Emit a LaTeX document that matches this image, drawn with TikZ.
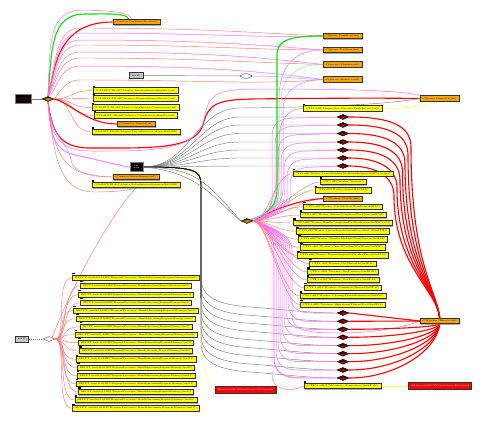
\documentclass[tikz,border=0pt]{standalone}
\usepackage{graphicx}
\usetikzlibrary{shapes.geometric,shadows}
\pgfdeclarelayer{bgw}
\pgfdeclarelayer{edges}
\pgfsetlayers{bgw,edges,main}
\definecolor{nodeyel}{RGB}{255,255,0}
\definecolor{nodeorg}{RGB}{255,165,0}
\definecolor{edred}{RGB}{255,120,120}
\definecolor{edpink}{RGB}{255,110,255}
\definecolor{edgreen}{RGB}{0,230,0}
\definecolor{edlgreen}{RGB}{150,240,150}
\definecolor{edlav}{RGB}{185,150,255}
\definecolor{edgray}{RGB}{125,125,125}
\definecolor{edyel}{RGB}{255,255,90}
\definecolor{bord}{RGB}{50,50,50}
\newcommand{\ft}[2]{\resizebox{\dimexpr#1pt-5pt\relax}{1.7pt}{#2}}
\begin{document}
\begin{tikzpicture}[x=1pt,y=-1pt,
 box/.style={draw=bord,line width=0.6pt,inner sep=0pt,minimum height=5.5pt,
   drop shadow={shadow xshift=0.8pt,shadow yshift=-0.8pt,fill=black!45,opacity=0.7}},
 tabmk/.style={fill=black,inner sep=0pt,minimum width=2.2pt,minimum height=1.3pt,anchor=south west},
 ybox/.style={box,fill=nodeyel,label={[tabmk]north west:{}}},
 obox/.style={box,fill=nodeorg},
 rbox/.style={box,fill=red,minimum height=7pt,text=white},
 gbox/.style={box,fill=black!22},
 kbox/.style={draw=black!50,fill=black,inner sep=0pt,line width=0.5pt},
 dia/.style={shape=diamond,inner sep=0pt,minimum width=12pt,minimum height=5pt,draw=black,line width=0.4pt},
 kdia/.style={dia,inner color=red!85!black,outer color=black},
 odia/.style={dia,inner color=nodeorg,outer color=black!85},
 wdia/.style={dia,fill=white,draw=black!60,line width=0.5pt},
 redt/.style={draw=edred,line width=0.45pt},
 pinkt/.style={draw=edpink,line width=0.5pt},
 redT/.style={draw=red,line width=1.1pt},
 greenT/.style={draw=edgreen,line width=1.1pt},
 lgreen/.style={draw=edlgreen,line width=0.5pt},
 lav/.style={draw=edlav,line width=0.5pt},
 grayt/.style={draw=edgray,line width=0.45pt},
 yel/.style={draw=edyel,line width=0.5pt}]
\begin{pgfonlayer}{bgw}
\fill[white] (0,0) rectangle (488,434);
\end{pgfonlayer}
\useasboundingbox (0,0) rectangle (488,434);

% ---------- left top cluster
\node[kbox,minimum width=15pt,minimum height=9pt,align=center,text=red,font=\fontsize{1.8}{2.2}\selectfont] (b1) at (23,99) {0\\UCLADPT-TB\\entry};
\node[odia] (d1) at (48,99) {};
\node[obox,minimum width=47pt] (o1) at (136.5,22) {\ft{47}{CConnector::StartListenerThread(void)}};
\node[gbox,minimum width=14pt,minimum height=6pt] (g1) at (136,75.5) {\ft{14}{init}};
\node[wdia,minimum width=13pt,minimum height=6pt] (d3) at (246,76) {};
\node[ybox,minimum width=85pt] (y1) at (135.5,90.5) {\ft{85}{UCLADPT-TB.dll!CAdapter::InitializeInterfaceHandler(void)}};
\node[ybox,minimum width=85pt] (y2) at (135.5,98.5) {\ft{85}{UCLADPT-TB.dll!CAdapter::RegisterInterfaceDevice(void)}};
\node[ybox,minimum width=87pt] (y3) at (135.5,107.5) {\ft{87}{UCLADPT-TB.dll!CAdapter::OpenInterfaceConnection(int,int)}};
\node[ybox,minimum width=83pt] (y4) at (135.5,115.5) {\ft{83}{UCLADPT-TB.dll!CAdapter::CloseInterfaceHandle(void)}};
\node[obox,minimum width=38pt] (o2) at (136,124) {\ft{38}{CConnector::Dispatch(int)}};
\node[ybox,minimum width=88pt] (y5) at (136,132) {\ft{88}{UCLADPT-TB.dll!CAdapter::ProcessInterfaceCallback(HANDLE)}};
\node[kbox,minimum width=13pt,minimum height=9pt,align=center,text=white,font=\fontsize{2}{2.4}\selectfont] (b2) at (136.5,167) {0x0\\main};
\node[obox,minimum width=46pt] (o3) at (136,177) {\ft{46}{CConnector::ReceiveMessage(void*)}};
\node[ybox,minimum width=88pt] (y6) at (136,185) {\ft{88}{UCLADPT-TB.dll!CAdapter::ReleaseInterfaceResources(HANDLE)}};

% ---------- right top
\node[obox,minimum width=39pt] (r1) at (342.5,36) {\ft{39}{CQueue::PushItem(int)}};
\node[obox,minimum width=39pt] (r2) at (342.5,50) {\ft{39}{CQueue::PopItem(int)}};
\node[obox,minimum width=39pt] (r3) at (342.5,64.5) {\ft{39}{CQueue::Flush(void)}};
\node[obox,minimum width=39pt] (r4) at (342.5,79.5) {\ft{39}{CQueue::Reset(void)}};
\node[obox,minimum width=39pt] (o4) at (439.5,98.5) {\ft{39}{CQueue::Dispatch(int)}};
\node[ybox,minimum width=79pt] (y7) at (342.5,108.5) {\ft{79}{CTP1.dll!CDispatcher::ExecuteTaskQueue(void)}};
\foreach \yy [count=\i] in {117,125,133.5,142,150,158,166}
  \node[kdia] (t\i) at (343,\yy) {};

% ---------- center
\node[odia] (dc) at (247,221) {};
\foreach \yy/\ww/\st/\tx [count=\i] in {
 173.7/100/ybox/{CTP1.dll!CWorker::ProcessPendingWorkItemsInQueue(0x2F3A,0x0001)},
 182/46/ybox/{CTP1.dll!CWorker::Wait(int)},
 190.3/56/ybox/{CTP1.dll!CWorker::Signal(HANDLE)},
 198.7/39/obox/{CWorker::Notify(int)},
 206.7/79/ybox/{CTP1.dll!CWorker::ScheduleNextWorkItem(0x2F3A)},
 215/86/ybox/{CTP1.dll!CWorker::ReleaseCompletedWorkItem(0x2F3B)},
 223/99/ybox/{CTP1.dll!CWorker::HandleCompletionPortNotification(0x2F3C,0x10)},
 231.3/93/ybox/{CTP1.dll!CWorker::QueueAsynchronousProcedureCall(0x2F3D)},
 239.3/89/ybox/{CTP1.dll!CWorker::WaitForMultipleWorkObjects(0x2F3E)},
 247.3/85/ybox/{CTP1.dll!CWorker::CancelPendingWorkItem(0x2F3F)},
 255.3/91/ybox/{CTP1.dll!CWorker::ResumeSuspendedWorkerThread(0x2F40)},
 263.7/67/ybox/{CTP1.dll!CWorker::GetThreadId(0x2F41)},
 272/71/ybox/{CTP1.dll!CWorker::SetPriority(0x2F42)},
 280/72/ybox/{CTP1.dll!CWorker::GetPriority(0x2F43)},
 287.7/77/ybox/{CTP1.dll!CWorker::TerminateThread(0x2F44)},
 296/86/ybox/{CTP1.dll!CWorker::CleanupThreadResources(0x2F45)},
 304.7/85/ybox/{CTP1.dll!CWorker::ShutdownThreadPool(0x2F46)}}
  \node[\st,minimum width=\ww pt] (L\i) at (343,\yy) {\ft{\ww}{\tx}};
\foreach \yy [count=\i] in {313,321.3,329.3,337.3,345.7,353.7,361.7,370,378}
  \node[kdia] (u\i) at (343,\yy) {};
\node[obox,minimum width=39pt] (o5) at (439.7,321) {\ft{39}{CWorker::Run(void)}};
\node[ybox,minimum width=77pt] (y8) at (342.7,386) {\ft{77}{CTP1.dll!CWorker::Finalize(0x2F47)}};
\node[rbox,minimum width=63pt] (rr) at (440,386) {\ft{63}{Microsoft-Windows-Kernel}};
\node[rbox,minimum width=61pt] (rl) at (245.5,390) {\ft{61}{Microsoft-Windows-Network}};

% ---------- bottom left
\node[gbox,minimum width=13pt,minimum height=6pt] (g2) at (22,339) {\ft{13}{exit}};
\node[wdia] (d2) at (49,339) {};
\foreach \yy/\ww [count=\i] in {277.7/127,285.7/111,294.7/115,302.7/111,310.7/125,318.7/119,326.7/112,334.7/122,342.7/115,351/113,359.3/120,367.7/117,375.7/118,383.7/120,392/115,400/122,408.3/127}
  \node[ybox,minimum width=\ww pt] (B\i) at (136,\yy) {\ft{\ww}{RECPT-0x00401A2B!CRequestProcessor::HandleIncomingRequestMessage(0x0\i)}};

% ================= edges
\begin{pgfonlayer}{edges}
\draw[grayt,dash pattern=on 1.2pt off 0.8pt] (b1) -- (d1);
\draw[grayt,dash pattern=on 1.2pt off 0.8pt] (g2) -- (d2);
\draw[grayt] (g1) -- (d3);
% d1 fan
\foreach \n in {y1,y2,y3,y4,y5}
  \draw[redt] (d1.east) .. controls +(18,0) and +(-22,0) .. (\n.west);
\draw[redT] (d1.east) .. controls +(15,3) and +(-30,0) .. (o2.west);
\draw[redT] (d1.north) .. controls (55,70) and (56,22) .. (o1.west);
\draw[greenT] (d1.north) .. controls (52,50) and (50,14) .. (85,14) .. controls (110,14) and (127,13) .. ([xshift=-8pt]o1.north);
\draw[pinkt] (d1.north) .. controls (50,45) and (47,9) .. (85,10) .. controls (112,11) and (130,12) .. ([xshift=-5pt]o1.north);
\foreach \Y/\st/\n in {28/redt/r1,33/pinkt/r1,40/pinkt/r2,45/redt/r2,52/pinkt/r3,58/redt/r3,66/pinkt/r4,80/redt/r4}
  \draw[\st] (d1.north) .. controls (56,\Y+30) and (57,\Y) .. (80,\Y) .. controls (200,\Y) and (260,\Y+5) .. (\n.west);
\draw[redT] (d1.south) .. controls (52,130) and (58,148) .. (90,148) .. controls (150,148) and (195,150) .. (203,125) .. controls (208,105) and (215,100) .. (250,99) .. controls (330,98) and (390,98) .. (o4.west);
\draw[pinkt] (d1.south) .. controls (51,132) and (56,151) .. (90,151) .. controls (150,151) and (196,152) .. (204,120) .. controls (208,95) and (215,90) .. (250,89) .. controls (340,89) and (400,90) .. (o4.north west);
\draw[pinkt,line width=0.8pt] (d1.south) .. controls (50,130) and (52,150) .. (75,155) .. controls (100,160) and (115,165) .. (b2.west);
\draw[lav] (d1.south) .. controls (52,140) and (70,145) .. (71,160) .. controls (72,172) and (90,176) .. (o3.west);
\draw[redt] (d1.south) .. controls (54,155) and (62,177) .. (o3.west);
\draw[redt] (d1.south) .. controls (54,160) and (60,192) .. (95,192) .. controls (115,192) and (130,190) .. (y6.south);
\draw[lav] (d3.east) .. controls (280,76) and (300,79) .. (r4.west);
% b2
\draw[yel] (b2.east) .. controls (195,167) and (201,172) .. (201,190) -- (201,305) .. controls (201,350) and (205,385) .. (rl.west);
\foreach \n/\Y in {t1/117,t2/125,t3/133.5,t4/142,t5/150,t6/158,t7/166}
  \draw[grayt] (b2.east) .. controls (190,167) and (200,\Y) .. (240,\Y) -- (\n.west);
\draw[grayt] (b2.east) .. controls (190,167) and (195,108) .. (240,108) .. controls (330,107) and (390,104) .. (o4.west);
\foreach \n/\Y in {u1/313,u2/321.3,u3/329.3,u4/337.3,u5/345.7,u6/353.7,u7/361.7,u8/370,u9/378}
  \draw[grayt] (b2.east) .. controls (195,167) and (201,170) .. (201,185) -- (201,\Y-35) .. controls (201,\Y-15) and (220,\Y-8) .. (250,\Y-6) .. controls (290,\Y-3) and (310,\Y) .. (\n.west);
\coordinate (bk) at (201,298);
\draw[black,line width=0.9pt] (b2.east) .. controls (195,167) and (201,170) .. (201,185) -- (bk);
\draw[grayt] (b2.east) .. controls (195,168) and (205,180) .. (dc.west);
\draw[grayt] (b2.east) .. controls (200,172) and (215,200) .. (dc.west);
% dc
\foreach \i in {1,...,17}
  \draw[redt] (dc.east) .. controls +(15,0) and +(-18,0) .. (L\i.west);
\draw[redT] (dc.east) .. controls +(15,-10) and +(-20,0) .. (L4.west);
\draw[lgreen] (dc.east) .. controls +(15,-10) and +(-20,0) .. (L3.west);
\foreach \n/\Y/\X in {t1/117/272,t2/125/275,t3/133.5/278,t4/142/281,t5/150/284,t6/158/287,t7/166/290}
  \draw[pinkt] (dc.east) .. controls (262,219) and (\X,212) .. (\X,198) -- (\X,\Y+20) .. controls (\X,\Y+5) and (\X+8,\Y+1) .. (\X+25,\Y+1) -- (\n.west);
\draw[greenT] (dc.north east) .. controls (268,215) and (277,205) .. (277,190) -- (277,55) .. controls (277,40) and (290,36) .. (r1.west);
\draw[lav] (dc.north east) .. controls (268,215) and (279,205) .. (279,190) -- (279,100) .. controls (279,65) and (295,50) .. (r2.west);
\draw[lgreen] (dc.north east) .. controls (268,215) and (281,205) .. (281,190) -- (281,100) .. controls (281,75) and (300,64) .. (r3.west);
\draw[lav] (dc.north east) .. controls (268,215) and (283,205) .. (283,190) -- (283,110) .. controls (283,90) and (300,80) .. (r4.west);
\draw[redt] (dc.east) .. controls (275,215) and (279,180) .. (279,140) .. controls (279,118) and (290,108) .. (y7.west);
\foreach \n/\Y/\X in {u1/313/290,u2/321.3/288,u3/329.3/286,u4/337.3/284,u5/345.7/282,u6/353.7/280,u7/361.7/278,u8/370/276}
  \draw[pinkt] (dc.east) .. controls (262,224) and (\X,232) .. (\X,250) -- (\X,\Y-20) .. controls (\X,\Y-5) and (\X+8,\Y) .. (\X+22,\Y) -- (\n.west);
\draw[pinkt,line width=0.9pt] (dc.east) .. controls (262,224) and (274,232) .. (274,250) -- (274,358) .. controls (274,373) and (285,378) .. (300,378) -- (u9.west);
\draw[redt] (dc.east) .. controls (262,224) and (272,232) .. (272,250) -- (272,375) .. controls (272,390) and (290,393) .. (y8.west);
\draw[pinkt] (dc.east) .. controls (262,224) and (292,232) .. (292,250) -- (292,315) .. controls (292,330) and (305,333) .. (340,333) .. controls (380,333) and (410,325) .. (o5.west);
% red arcs to o5
\foreach \n/\Y/\X in {t1/117/411,t2/125/408,t3/133.5/405,t4/142/402.5,t5/150/400,t6/158/397,t7/166/394}
  \draw[redT] (\n.east) .. controls (\X-22,\Y) and (\X,\Y+8) .. (\X,\Y+30) .. controls (\X,265) and (437,290) .. (o5.north);
\draw[redT] (u1.east) -- (o5.west);
\draw[redT] (u2.east) -- (o5.west);
\foreach \n/\Y in {u3/329.3,u4/337.3,u5/345.7,u6/353.7,u7/361.7,u8/370,u9/378}
  \draw[redT] (\n.east) .. controls (395,\Y) and (437,{(\Y+324)/2}) .. (o5.south);
\draw[yel] (y7.east) .. controls (400,109) and (425,106) .. (o4.south);
\draw[yel] (y8) -- (rr);
% d2
\foreach \i in {1,...,17}
  \draw[redt] (d2.east) .. controls +(12,0) and +(-18,0) .. (B\i.west);
\draw[redt] (d2.north east) .. controls (70,290) and (110,215) .. (y6.south);
\end{pgfonlayer}
\end{tikzpicture}
\end{document}
